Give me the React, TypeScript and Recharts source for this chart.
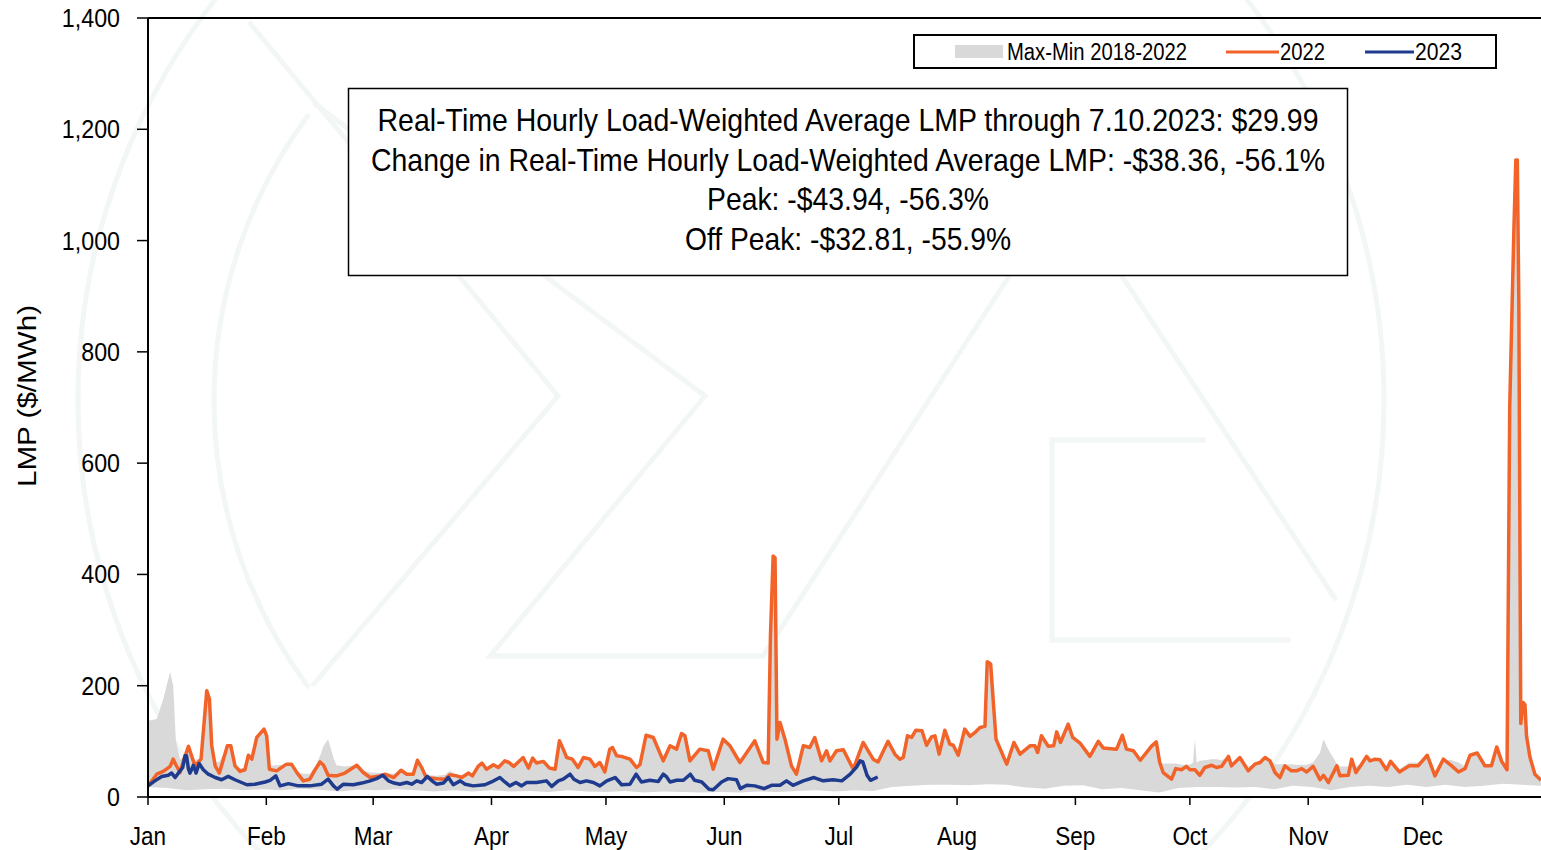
// MISO-style LMP chart: 2022 and 2023 daily real-time LMP over the 2018-2022 max/min band.
// Band is drawn as a gray max area with a white min area laid over it, lines on top.

import { Area, ComposedChart, Line, ReferenceLine, XAxis, YAxis } from "recharts";

const FONT = "'Liberation Sans', Arial, sans-serif";

const monthTicks = [0, 31, 59, 90, 120, 151, 181, 212, 243, 273, 304, 334];
const monthNames = ["Jan", "Feb", "Mar", "Apr", "May", "Jun", "Jul", "Aug", "Sep", "Oct", "Nov", "Dec"];
const yTicks = [0, 200, 400, 600, 800, 1000, 1200, 1400];

// day of year (0 = Jan 1) for the 2022 line and the band top
const days2022 = [
  0, 2.3, 4, 5.8, 6.6, 7.3, 8.4, 9.3, 10.6, 12.3,
  13.9, 15.4, 16.1, 16.7, 17.6, 18.7, 20.8, 21.7, 22.8, 24.1,
  25.4, 26.3, 27.2, 28.5, 30.4, 31.1, 31.8, 33.7, 36.3, 37.6,
  39.1, 40.7, 42.4, 43.8, 45.1, 46, 47.2, 48.6, 49.4, 51.6,
  54.7, 56.4, 58.2, 60.8, 62.1, 64.4, 66.3, 67.8, 69.5, 70.6,
  71.7, 72.9, 75.6, 77.8, 79.1, 80.9, 82.2, 84, 85, 86.5,
  87.5, 88.7, 90.5, 91.8, 93.5, 94.6, 95.8, 98.3, 99.7, 100.8,
  101.8, 103.6, 105.2, 106.7, 107.8, 108.8, 109.7, 111.2, 112.7, 114.1,
  115.8, 117.1, 118.4, 119.7, 121, 121.7, 122.8, 124, 126.3, 128,
  128.9, 130.5, 132.4, 135, 136.8, 138.5, 139.8, 140.7, 142, 144.6,
  146.8, 148.1, 150.7, 152.5, 155.1, 156.9, 159, 161.2, 162.5, 163.1,
  163.8, 164.3, 164.8, 165.6, 166.9, 168.6, 169.9, 171.7, 173.4, 174.7,
  176.5, 177.8, 178.7, 180.4, 182.2, 184.8, 187.4, 190, 191.3, 193.9,
  195.7, 197, 197.9, 199, 200.1, 201.2, 202.8, 204, 205.3, 206.2,
  207.3, 208.8, 210.1, 211, 212.3, 214, 215.4, 216.7, 218, 219.3,
  219.9, 220.8, 221.5, 222.2, 223.7, 225, 226.9, 228.5, 231.1, 232.4,
  233.1, 234.1, 235.9, 237.3, 238.1, 239.1, 241.1, 242.3, 244.2, 246.8,
  249, 250.3, 253.8, 255.3, 256.4, 258.2, 260, 261.4, 262.9, 264.2,
  265.1, 266, 268.2, 269.3, 270.8, 272.1, 273, 273.8, 274.3, 274.8,
  275.6, 276.9, 278.7, 280, 281.3, 283.1, 283.9, 286.1, 288.3, 290,
  291.4, 292.7, 294, 295.3, 296.6, 297.9, 299.6, 300.9, 302.3, 303.6,
  305.3, 307.1, 308, 309.3, 311.5, 312.3, 314.5, 315.4, 316.5, 318,
  319.3, 320.2, 321.5, 322.8, 324.5, 325.6, 327.9, 330.5, 332.8, 335.2,
  337.2, 339.4, 341.6, 343.4, 345.1, 346.4, 348.3, 350.3, 352, 353.4,
  354.7, 356.1, 356.8, 357.9, 358.4, 358.8, 359.2, 359.7, 360.3, 360.8,
  361.2, 362.1, 363.4, 365,
];

const lmp2022 = [
  20, 41, 46, 55, 68, 58, 44, 65, 91, 56,
  68, 191, 176, 92, 56, 43, 92, 92, 56, 46,
  49, 75, 68, 107, 122, 110, 50, 47, 59, 59,
  43, 29, 32, 49, 63, 57, 39, 38, 38, 43,
  57, 44, 35, 38, 41, 35, 48, 41, 41, 66,
  53, 35, 33, 32, 40, 38, 35, 43, 38, 55,
  61, 50, 58, 53, 65, 62, 55, 71, 52, 70,
  61, 64, 52, 50, 101, 86, 71, 68, 53, 71,
  68, 55, 62, 45, 86, 89, 74, 73, 68, 53,
  58, 111, 107, 65, 92, 86, 114, 110, 65, 86,
  83, 50, 104, 92, 62, 80, 101, 62, 61, 290,
  433, 430, 104, 134, 104, 56, 41, 92, 89, 107,
  65, 83, 65, 83, 85, 50, 98, 68, 63, 100,
  77, 68, 71, 110, 107, 120, 119, 93, 108, 110,
  77, 120, 95, 93, 75, 122, 109, 116, 125, 127,
  243, 239, 170, 104, 80, 59, 98, 77, 92, 92,
  80, 110, 91, 92, 117, 98, 131, 107, 97, 73,
  100, 88, 86, 111, 86, 83, 66, 78, 91, 99,
  62, 44, 32, 51, 49, 55, 49, 49, 49, 45,
  39, 53, 57, 53, 55, 73, 56, 71, 47, 59,
  62, 71, 65, 44, 35, 56, 47, 47, 51, 45,
  55, 31, 39, 26, 56, 38, 39, 68, 44, 59,
  73, 65, 68, 67, 49, 64, 45, 56, 56, 75,
  38, 68, 56, 45, 51, 75, 79, 56, 56, 90,
  64, 49, 700, 1020, 1145, 1145, 880, 132, 170, 166,
  110, 72, 41, 30,
];

// 2018-2022 max, on the same days as the 2022 line
const bandMax = [
  137, 140, 176, 225, 200, 101, 68, 72, 91, 66,
  70, 191, 176, 92, 63, 63, 92, 92, 56, 52,
  52, 75, 68, 107, 122, 110, 56, 57, 59, 59,
  45, 42, 42, 55, 74, 92, 104, 70, 57, 55,
  57, 48, 44, 43, 43, 42, 48, 43, 43, 66,
  53, 40, 38, 40, 47, 40, 38, 43, 40, 55,
  61, 50, 58, 53, 65, 62, 55, 71, 52, 70,
  61, 64, 52, 50, 101, 86, 71, 68, 53, 71,
  68, 55, 62, 45, 86, 89, 74, 73, 68, 53,
  58, 111, 107, 65, 92, 86, 114, 110, 65, 86,
  83, 50, 104, 92, 62, 80, 101, 62, 61, 290,
  433, 430, 104, 134, 104, 56, 41, 92, 89, 107,
  65, 83, 65, 83, 85, 50, 98, 68, 63, 100,
  77, 68, 71, 110, 107, 120, 119, 93, 108, 110,
  77, 120, 95, 93, 75, 122, 109, 116, 125, 127,
  243, 239, 170, 104, 80, 59, 98, 77, 92, 92,
  80, 110, 91, 92, 117, 98, 131, 107, 97, 73,
  100, 88, 86, 111, 86, 83, 66, 78, 91, 99,
  62, 60, 60, 60, 58, 58, 58, 62, 104, 62,
  65, 66, 68, 68, 66, 73, 60, 71, 55, 59,
  62, 71, 65, 59, 59, 59, 59, 58, 58, 58,
  62, 80, 104, 85, 60, 55, 55, 68, 55, 59,
  73, 65, 68, 67, 55, 64, 50, 62, 62, 75,
  45, 68, 66, 62, 55, 75, 79, 56, 56, 90,
  64, 49, 700, 1020, 1145, 1145, 880, 132, 170, 166,
  110, 72, 41, 30,
];

const minDays = [
  0, 5, 10, 15, 20, 25, 30, 35, 40, 45,
  50, 55, 60, 65, 70, 75, 80, 85, 90, 95,
  100, 105, 110, 115, 120, 125, 130, 135, 140, 145,
  150, 155, 160, 165, 170, 175, 180, 185, 190, 195,
  200, 205, 210, 215, 220, 225, 230, 235, 240, 245,
  250, 255, 260, 265, 270, 275, 280, 285, 290, 295,
  300, 305, 310, 315, 320, 325, 330, 335, 340, 345,
  350, 355, 360, 365,
];
const bandMin = [
  18, 16, 12, 14, 15, 12, 14, 12, 15, 13,
  10, 13, 12, 14, 12, 10, 12, 10, 12, 10,
  11, 9, 12, 10, 9, 11, 8, 10, 9, 8,
  9, 8, 10, 9, 11, 12, 10, 12, 11, 18,
  20, 22, 22, 21, 23, 22, 17, 15, 20, 21,
  14, 16, 12, 8, 16, 18, 18, 17, 18, 14,
  20, 18, 12, 18, 20, 18, 22, 18, 22, 18,
  20, 24, 22, 20,
];

const days2023 = [
  0, 1.8, 3.6, 5.3, 6.2, 7.1, 8.4, 9.1, 9.7, 10.1,
  10.6, 11, 11.9, 12.6, 13.4, 14.5, 15.8, 17.6, 19.3, 21,
  22.8, 25.9, 28, 30.7, 32, 33.5, 34.6, 36.8, 39.4, 42.4,
  45.5, 47.2, 48.6, 49.6, 51.2, 53.8, 56, 58.2, 59.9, 61.5,
  63, 64.5, 66, 67.8, 69.1, 70.4, 71.7, 73.2, 74.4, 75.6,
  77.4, 78.7, 80, 81.8, 83.1, 85.2, 88.3, 90, 92.2, 93.5,
  94.8, 96.4, 97.9, 99.2, 101.8, 104.4, 105.8, 107.5, 108.8, 110.6,
  111.6, 113.2, 114.9, 116.7, 118.4, 120.2, 122.4, 124.1, 126.3, 127.9,
  129.3, 131.5, 133.7, 135, 135.9, 136.8, 138.5, 140.3, 142.1, 143.2,
  145.1, 147, 148.1, 150.3, 152, 154.2, 155.2, 156.9, 159, 161.4,
  163.4, 165.6, 167.3, 169, 171.7, 174.5, 176.9, 179.5, 181.8, 184,
  185.7, 186.6, 187.3, 188.4, 189.3, 191.2,
];
const lmp2023 = [
  20, 29, 37, 39, 43, 35, 47, 53, 74, 74,
  50, 43, 57, 43, 60, 49, 41, 35, 31, 37,
  31, 22, 23, 27, 30, 38, 20, 24, 20, 20,
  23, 32, 20, 14, 23, 22, 25, 29, 33, 39,
  29, 25, 23, 26, 23, 29, 26, 37, 29, 23,
  25, 35, 22, 29, 23, 20, 22, 27, 35, 27,
  20, 26, 20, 26, 26, 29, 19, 29, 32, 41,
  32, 26, 29, 26, 20, 29, 35, 22, 23, 41,
  27, 30, 28, 41, 36, 27, 30, 30, 41, 30,
  27, 14, 13, 27, 33, 31, 15, 21, 20, 15,
  21, 21, 29, 21, 29, 35, 29, 31, 29, 41,
  54, 65, 63, 39, 30, 36,
];

const annotationLines = [
  "Real-Time Hourly Load-Weighted Average LMP through 7.10.2023: $29.99",
  "Change in Real-Time Hourly Load-Weighted Average LMP: -$38.36, -56.1%",
  "Peak: -$43.94, -56.3%",
  "Off Peak: -$32.81, -55.9%",
];

const series2022 = days2022.map((day, i) => ({ day, lmp: lmp2022[i], max: bandMax[i] }));
const series2023 = days2023.map((day, i) => ({ day, lmp: lmp2023[i] }));
const bandFloor = minDays.map((day, i) => ({ day, min: bandMin[i] }));

const ORANGE = "#F2632A";
const NAVY = "#1F3B8E";
const BAND = "#D9D9D9";
const MARK = "#F2F6F4";

// measured widths of the (narrow) source font, used as textLength
const annotationWidths = [941, 954, 282, 326];
const annotationBaselines = [131, 171, 210, 250];

// source font is a condensed sans, so squeeze Liberation Sans a little
function MonthTick({ x, y, payload }: any) {
  return (
    <text
      x={x}
      y={y + 21}
      textAnchor="middle"
      fontSize={25}
      fontFamily={FONT}
      fill="#000"
      transform={`translate(${x} 0) scale(0.9 1) translate(${-x} 0)`}
    >
      {monthNames[monthTicks.indexOf(payload.value)] ?? ""}
    </text>
  );
}

function ValueTick({ x, y, payload }: any) {
  return (
    <text
      x={x}
      y={y + 9}
      textAnchor="end"
      fontSize={25}
      fontFamily={FONT}
      fill="#000"
      transform={`translate(${x} 0) scale(0.93 1) translate(${-x} 0)`}
    >
      {Number(payload.value).toLocaleString("en-US")}
    </text>
  );
}

// faint logo watermark behind the plot
function Watermark() {
  return (
    <svg width={1541} height={850} style={{ position: "absolute", left: 0, top: 0 }}>
      <g fill="none" stroke={MARK} strokeWidth={5}>
        <circle cx={731} cy={400} r={653} />
        <path d="M 309 688 A 481 481 0 0 1 309 114" />
        <polyline points="249,22 558,396 312,686" />
        <polyline points="314,103 705,396 490,656 763,656 1065,190 1336,600" />
        <polyline points="1206,440 1052,440 1052,640 1290,640" />
      </g>
    </svg>
  );
}

function Overlay() {
  return (
    <svg
      width={1541}
      height={850}
      style={{ position: "absolute", left: 0, top: 0, pointerEvents: "none" }}
      fontFamily={FONT}
    >
      <text
        x={36}
        y={396}
        transform="rotate(-90, 36, 396)"
        textAnchor="middle"
        fontSize={26}
        textLength={182}
        lengthAdjust="spacingAndGlyphs"
        fill="#000"
      >
        LMP ($/MWh)
      </text>

      <rect x={914} y={35} width={582} height={33} fill="#fff" stroke="#000" strokeWidth={2} />
      <rect x={955} y={45} width={48} height={13} fill={BAND} />
      <text x={1007} y={60} fontSize={23} textLength={180} lengthAdjust="spacingAndGlyphs" fill="#000">
        Max-Min 2018-2022
      </text>
      <line x1={1226} x2={1279} y1={52} y2={52} stroke={ORANGE} strokeWidth={3} />
      <text x={1280} y={60} fontSize={23} textLength={45} lengthAdjust="spacingAndGlyphs" fill="#000">
        2022
      </text>
      <line x1={1365} x2={1414} y1={52} y2={52} stroke={NAVY} strokeWidth={3} />
      <text x={1415} y={60} fontSize={23} textLength={47} lengthAdjust="spacingAndGlyphs" fill="#000">
        2023
      </text>

      <rect x={348.5} y={88.5} width={999} height={187} fill="#fff" stroke="#000" strokeWidth={1.5} />
      {annotationLines.map((line, i) => (
        <text
          key={i}
          x={848}
          y={annotationBaselines[i]}
          textAnchor="middle"
          fontSize={32}
          textLength={annotationWidths[i]}
          lengthAdjust="spacingAndGlyphs"
          fill="#000"
        >
          {line}
        </text>
      ))}
    </svg>
  );
}

export default function App() {
  return (
    <div style={{ position: "absolute", left: 0, top: 0, width: 1541, height: 850, background: "#fff" }}>
      <Watermark />
      <ComposedChart
        width={1541}
        height={850}
        margin={{ top: 18, right: 0, bottom: 0, left: 0 }}
        accessibilityLayer={false}
      >
        <Area
          data={series2022}
          dataKey="max"
          type="linear"
          fill={BAND}
          fillOpacity={1}
          stroke="none"
          isAnimationActive={false}
        />
        <Area
          data={bandFloor}
          dataKey="min"
          type="linear"
          fill="#fff"
          fillOpacity={1}
          stroke="none"
          isAnimationActive={false}
        />
        <Line
          data={series2022}
          dataKey="lmp"
          type="linear"
          stroke={ORANGE}
          strokeWidth={3.5}
          strokeLinejoin="round"
          dot={false}
          isAnimationActive={false}
        />
        <Line
          data={series2023}
          dataKey="lmp"
          type="linear"
          stroke={NAVY}
          strokeWidth={3.5}
          strokeLinejoin="round"
          dot={false}
          isAnimationActive={false}
        />
        <ReferenceLine y={1400} stroke="#000" strokeWidth={2} />
        <XAxis
          type="number"
          dataKey="day"
          domain={[0, 365]}
          ticks={monthTicks}
          interval={0}
          allowDataOverflow
          height={53}
          axisLine={{ stroke: "#000", strokeWidth: 2 }}
          tickLine={{ stroke: "#000", strokeWidth: 1.5 }}
          tickSize={8}
          tickMargin={19}
          tick={MonthTick}
        />
        <YAxis
          type="number"
          domain={[0, 1400]}
          ticks={yTicks}
          interval={0}
          allowDataOverflow
          width={148}
          axisLine={{ stroke: "#000", strokeWidth: 2 }}
          tickLine={{ stroke: "#000", strokeWidth: 1.5 }}
          tickSize={11}
          tickMargin={17}
          tick={ValueTick}
        />
      </ComposedChart>
      <Overlay />
    </div>
  );
}
